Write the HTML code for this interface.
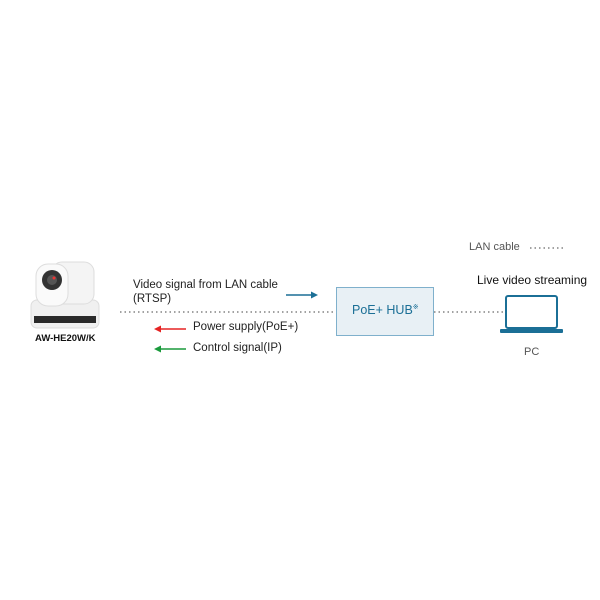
<!DOCTYPE html>
<html><head><style>
body{margin:0;width:600px;height:600px;background:#fff;position:relative;font-family:"Liberation Sans",sans-serif;overflow:hidden}
.t{position:absolute;font-size:11.5px;color:#222;white-space:nowrap}
</style></head><body>
<svg width="600" height="600" style="position:absolute;left:0;top:0">
<!-- camera -->
<rect x="31" y="300" width="68" height="28" rx="6" fill="#f0f0f0" stroke="#ddd"/>
<rect x="34" y="316" width="62" height="7" fill="#2a2a2a"/>
<rect x="52" y="262" width="42" height="42" rx="10" fill="#f4f4f4" stroke="#ddd"/>
<rect x="36" y="264" width="32" height="42" rx="12" fill="#fafafa" stroke="#ddd"/>
<circle cx="52" cy="280" r="10" fill="#333"/>
<circle cx="52" cy="280" r="5" fill="#555"/>
<circle cx="54" cy="278" r="1.5" fill="#e33"/>
<!-- dotted lines -->
<line x1="120" y1="312" x2="336" y2="312" stroke="#444" stroke-dasharray="1.5,3"/>
<line x1="434" y1="312" x2="505" y2="312" stroke="#444" stroke-dasharray="1.5,3"/>
<line x1="530" y1="248" x2="566" y2="248" stroke="#444" stroke-dasharray="1.5,3"/>
<!-- arrows -->
<line x1="286" y1="295" x2="312" y2="295" stroke="#1b6f96" stroke-width="1.5"/>
<polygon points="318,295 311,291.5 311,298.5" fill="#1b6f96"/>
<line x1="160" y1="329" x2="186" y2="329" stroke="#e52323" stroke-width="1.5"/>
<polygon points="154,329 161,325.5 161,332.5" fill="#e52323"/>
<line x1="160" y1="349" x2="186" y2="349" stroke="#1a9a3c" stroke-width="1.5"/>
<polygon points="154,349 161,345.5 161,352.5" fill="#1a9a3c"/>
<!-- hub -->
<rect x="336.5" y="287.5" width="97" height="48" fill="#e8f0f5" stroke="#7fb0cc"/>
<!-- laptop -->
<rect x="506" y="296" width="51" height="32" rx="2" fill="none" stroke="#1b6f96" stroke-width="2"/>
<rect x="500" y="329" width="63" height="4" rx="1" fill="#1b6f96"/>
</svg>
<div class="t" style="left:35px;top:333px;font-size:9.5px;font-weight:bold;color:#111">AW-HE20W/K</div>
<div class="t" style="left:133px;top:278px;line-height:14px">Video signal from LAN cable<br>(RTSP)</div>
<div class="t" style="left:193px;top:321px">Power supply(PoE+)</div>
<div class="t" style="left:193px;top:342px">Control signal(IP)</div>
<div class="t" style="left:352px;top:303px;color:#1b6f96;font-size:12.5px">PoE+ HUB<sup style="font-size:7px">※</sup></div>
<div class="t" style="left:469px;top:241px;color:#555;font-size:11px">LAN cable</div>
<div class="t" style="left:477px;top:273px;color:#111;font-size:12px">Live video streaming</div>
<div class="t" style="left:524px;top:346px;color:#555;font-size:11px">PC</div>
</body></html>
